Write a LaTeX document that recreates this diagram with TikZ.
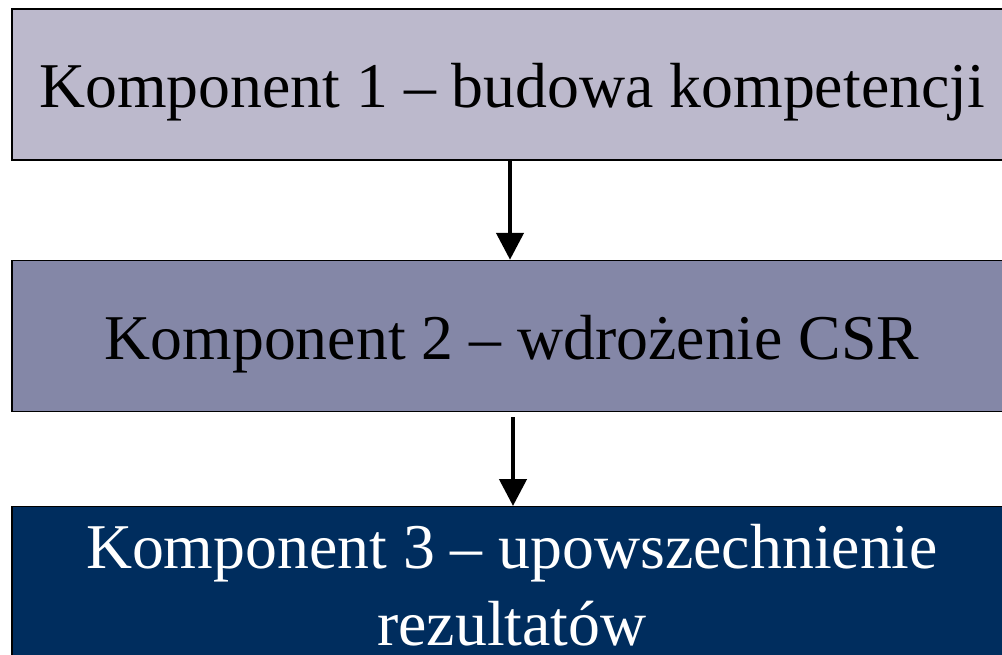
\documentclass[tikz,border=0pt]{standalone}
\usepackage{fontspec}
\setmainfont{Liberation Serif}
\usetikzlibrary{arrows.meta}
\definecolor{komplight}{HTML}{BCB9CC}
\definecolor{kompmid}{HTML}{8487A7}
\definecolor{kompdark}{HTML}{002D5E}
\begin{document}
\begin{tikzpicture}[x=0.02cm, y=-0.02cm,
  box/.style={draw=black, line width=0.85pt, minimum width=20cm, inner sep=0pt,
    font=\fontsize{36.3pt}{43.8pt}\selectfont},
  onerow/.style={minimum height=3.02cm, text height=26.5pt, text depth=0pt},
  link/.style={line width=2.6pt, -{Triangle[length=0.54cm, width=0.54cm]}}]
\useasboundingbox (0,0) rectangle (1002,655);
\clip (0,0) rectangle (1002,655);
\node (k1) [box, onerow, fill=komplight] at (512,84.5) {Komponent 1 – budowa kompetencji};
\node (k2) [box, onerow, fill=kompmid] at (512,336) {Komponent 2 – wdrożenie CSR};
\node (k3) [box, fill=kompdark, text=white, minimum height=3.14cm, align=center, anchor=north] at (512,506)
  {Komponent 3 – upowszechnienie\\rezultatów};
\draw [link] ([xshift=-0.04cm]k1.south) -- ([xshift=-0.04cm]k2.north);
\draw [link] ([xshift=0.02cm, yshift=-0.1cm]k2.south) -- ([xshift=0.02cm]k3.north);
\end{tikzpicture}
\end{document}
